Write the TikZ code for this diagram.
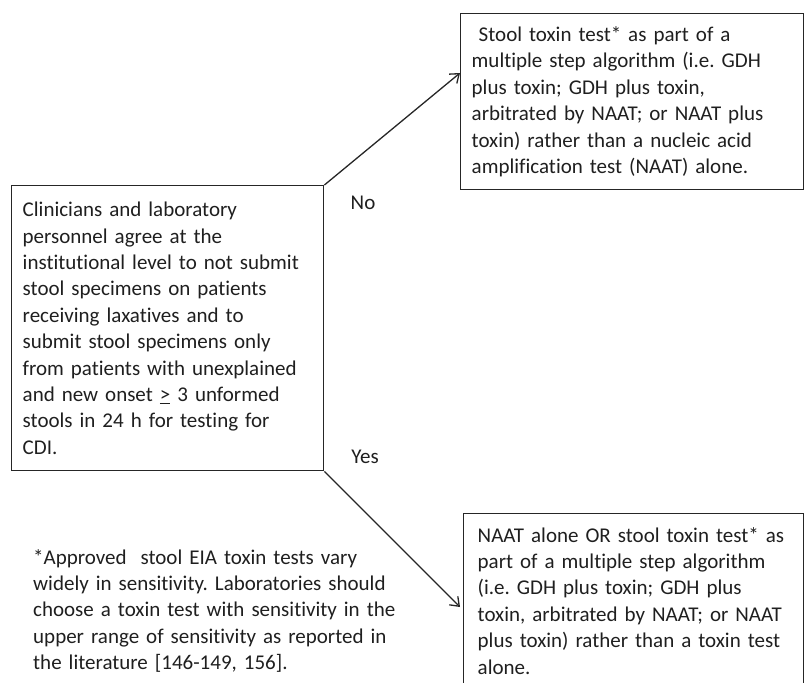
\documentclass[tikz,border=0pt]{standalone}
\usepackage{fontspec}
\setmainfont{Carlito}[Ligatures={NoCommon,NoContextual,NoRare}]
\usetikzlibrary{arrows.meta}
\frenchspacing
\begin{document}
\begin{tikzpicture}[x=1pt,y=-1pt,
  txt/.style={font=\fontsize{21}{26.4}\selectfont\frenchspacing, text=black!88},
  box/.style={txt, draw=black!85, line width=1.4pt, rectangle, align=left, anchor=north west},
  lbl/.style={txt},
  conn/.style={draw=black!85, line width=1.3pt, -{Straight Barb[length=8pt,width=12pt,line width=1.3pt]}}
]
\useasboundingbox (0,0) rectangle (805,682);
\node[box, minimum width=312pt, minimum height=285pt, text width=290pt, inner xsep=11pt] (q) at (11,185)
 {Clinicians and laboratory\\
  personnel agree at the\\
  institutional level to not submit\\
  stool specimens on patients\\
  receiving laxatives and to\\
  submit stool specimens only\\
  from patients with unexplained\\
  and new onset \underline{>} 3 unformed\\
  stools in 24 h for testing for\\
  CDI.};
\node[box, minimum width=343pt, minimum height=176pt, text width=321pt, inner xsep=11pt] (no) at (460,13)
 {\hspace*{7pt}Stool toxin test* as part of a\\
  multiple step algorithm (i.e. GDH\\
  plus toxin; GDH plus toxin,\\
  arbitrated by NAAT; or NAAT plus\\
  toxin) rather than a nucleic acid\\
  amplification test (NAAT) alone.};
\node[box, minimum width=340pt, minimum height=174pt, text width=318pt, inner xsep=11pt] (yes) at (463,513)
 {\hspace*{3pt}NAAT alone OR stool toxin test* as\\
  \hspace*{3pt}part of a multiple step algorithm\\
  \hspace*{3pt}(i.e. GDH plus toxin; GDH plus\\
  \hspace*{3pt}toxin, arbitrated by NAAT; or NAAT\\
  \hspace*{3pt}plus toxin) rather than a toxin test\\
  \hspace*{3pt}alone.};
\node[txt, align=left, anchor=north west, inner sep=0pt, text width=420pt] (fn) at (33,549)
 {*Approved\ \ stool EIA toxin tests vary\\
  widely in sensitivity. Laboratories should\\
  choose a toxin test with sensitivity in the\\
  upper range of sensitivity as reported in\\
  the literature [146-149, 156].};
\node[lbl] (lno) at (363,203) {No};
\node[lbl] (lyes) at (365,457) {Yes};
\coordinate (tipno) at (no.west |- 0,73);
\coordinate (tipyes) at (460,607);
\draw[conn] (q.north east) -- (tipno);
\draw[conn] (q.south east) -- (tipyes);
\end{tikzpicture}
\end{document}
